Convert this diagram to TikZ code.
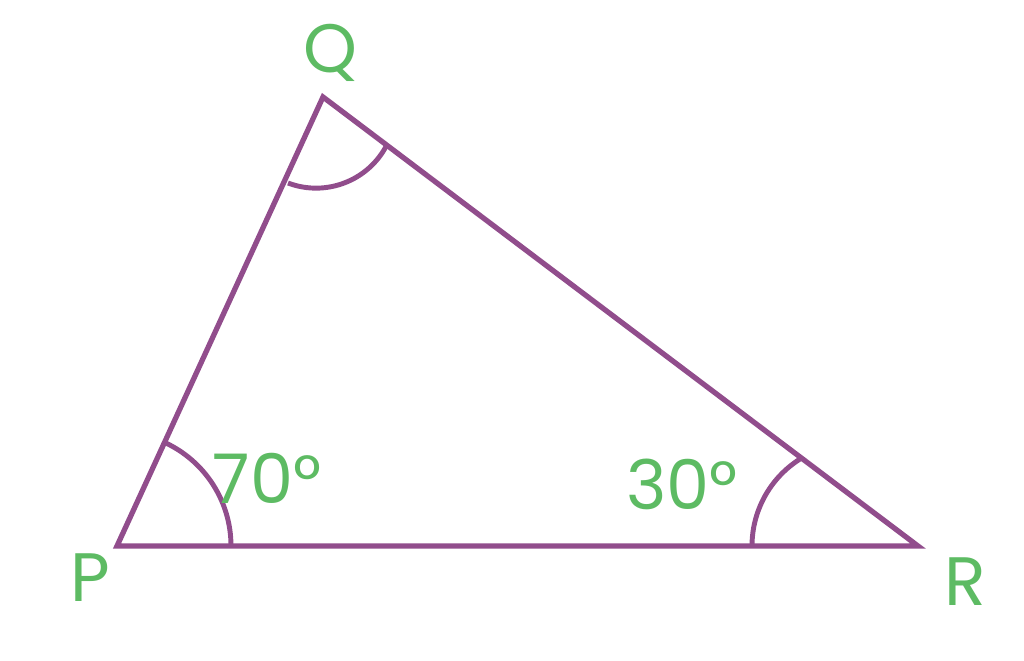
\documentclass[tikz,border=0pt]{standalone}
\usepackage{fontspec}
\setmainfont{Poppins}
\definecolor{tri}{HTML}{914D8C}
\definecolor{lab}{HTML}{5DBB63}
\begin{document}
\begin{tikzpicture}[x=0.02cm,y=-0.02cm,
  side/.style={draw=tri,line width=3pt,line join=miter},
  anglearc/.style={draw=tri,line width=2.8pt},
  lbl/.style={text=lab,font=\fontsize{39}{44}\selectfont,inner sep=0pt}]
\useasboundingbox (0,0) rectangle (1024,660);
\coordinate (P) at (117,546);
\coordinate (Q) at (323,97);
\coordinate (R) at (918,546);
\draw[side] (P) -- (Q) -- (R) -- cycle;
\draw[anglearc] (P) ++(114,0) arc[start angle=0,end angle=-65.35,radius=114];
\draw[anglearc] (752,546) arc[start angle=180,end angle=237.7,radius=102.8];
\draw[anglearc] (288,183) arc[start angle=110.7,end angle=26.9,radius=79.5];
\node[lbl] (q) at (330,53) {Q};
\node[lbl] (p) at (90,578) {P};
\node[lbl] (r) at (965,582) {R};
\node[lbl] (a70) at (267,478) {70°};
\node[lbl] (a30) at (682,484) {30°};
\end{tikzpicture}
\end{document}
